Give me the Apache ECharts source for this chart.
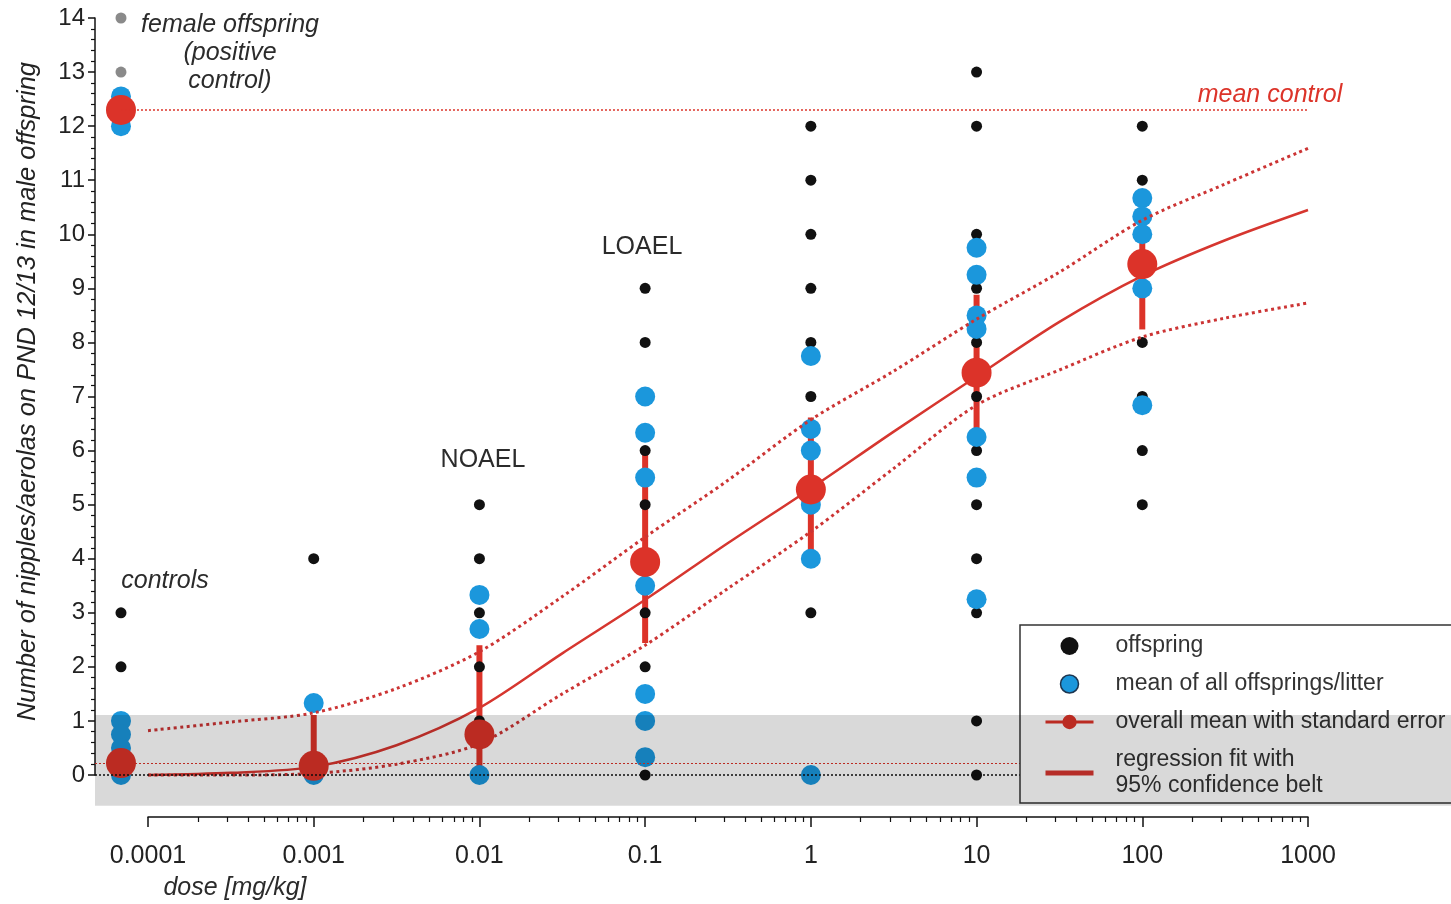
<!DOCTYPE html>
<html><head><meta charset="utf-8">
<script src="https://cdn.jsdelivr.net/npm/echarts@6/dist/echarts.min.js"></script>
<style>html,body{margin:0;padding:0;background:#fff}#c{width:1451px;height:904px}</style>
</head><body><div id="c"></div>
<script>
// ---------------- data ----------------
const doseGroups = ['control', '0.001', '0.01', '0.1', '1', '10', '100'];
// x position (mg/kg) for each group; control group is drawn left of the 0.0001 axis start
const doseX = [0.0000687, 0.001, 0.01, 0.1, 1, 10, 100];
const offspring = [
  [3, 2, 1, 0],
  [4, 0],
  [5, 4, 3, 2, 1, 0],
  [9, 8, 7, 6, 5, 4, 3, 2, 1, 0],
  [12, 11, 10, 9, 8, 7, 6, 5, 4, 3, 0],
  [13, 12, 10, 9, 8, 7, 6, 5, 4, 3, 1, 0],
  [12, 11, 10, 9, 8, 7, 6, 5]
];
const litterMeans = [
  [1.0, 0.75, 0.5, 0.25, 0],
  [1.33, 0],
  [3.33, 2.7, 0],
  [7.0, 6.33, 5.5, 3.5, 1.5, 1.0, 0.33],
  [7.75, 6.4, 6.0, 5.0, 4.0, 0],
  [9.75, 9.25, 8.5, 8.25, 6.25, 5.5, 3.25],
  [10.67, 10.33, 10.0, 9.0, 6.84]
];
const overallMean = [0.22, 0.17, 0.75, 3.94, 5.28, 7.44, 9.45];
const seLow  = [-0.05, 0.0, 0.05, 2.44, 4.0, 5.92, 8.24];
const seHigh = [0.52, 1.11, 2.4, 5.95, 6.61, 8.88, 10.45];
// female offspring (positive control)
const femaleOffspring = [14, 13, 12];
const femaleLitterMeans = [12.55, 12.3, 12.0];
const femaleMean = 12.3;
// regression fit with 95% confidence belt (log10 dose)
const fitLogDose = [-4, -3.5, -3, -2.5, -2, -1.5, -1, -0.5, 0, 0.5, 1, 1.5, 2, 2.5, 3];
const fitMean  = [0.0, 0.04, 0.15, 0.55, 1.24, 2.25, 3.24, 4.29, 5.3, 6.35, 7.37, 8.38, 9.23, 9.89, 10.45];
const fitUpper = [0.82, 0.98, 1.15, 1.6, 2.28, 3.3, 4.4, 5.45, 6.57, 7.47, 8.43, 9.3, 10.26, 10.93, 11.59];
const fitLower = [0.0, 0.0, 0.03, 0.2, 0.58, 1.5, 2.4, 3.45, 4.5, 5.67, 6.84, 7.49, 8.1, 8.45, 8.73];
// shaded band (y range)
const bandRange = [-0.567, 1.11];
const xTickLabels = ['0.0001', '0.001', '0.01', '0.1', '1', '10', '100', '1000'];
const yTickMax = 14;

// ---------------- layout ----------------
const FONT = "'Liberation Sans', Arial, sans-serif";
const W = 1451, H = 904;
const AX_X0 = 148, AX_X1 = 1308;           // pixel of 0.0001 and 1000
const DEC = (AX_X1 - AX_X0) / 7;             // px per decade
const PLOT_L = 95, PLOT_R = W;
const xMinLog = -4 - (AX_X0 - PLOT_L) / DEC;
const xMaxLog = 3 + (PLOT_R - AX_X1) / DEC;
const Y_TOP = 18, Y_ZERO = 775;
const UNIT = (Y_ZERO - Y_TOP) / yTickMax;
const yMinMain = -0.6;
const yBottomPx = Y_ZERO - yMinMain * UNIT;

const L = Math.log10;
const RED = '#dc3329', BLUE = '#1b97dc';

const offData = [], blueData = [];
offspring.forEach((vals, i) => vals.forEach(v => offData.push([L(doseX[i]), v])));
litterMeans.forEach((vals, i) => vals.forEach(v => blueData.push([L(doseX[i]), v])));
femaleLitterMeans.forEach(v => blueData.push([L(doseX[0]), v]));
const femData = femaleOffspring.map(v => [L(doseX[0]), v]);
const meanData = [[L(doseX[0]), femaleMean]].concat(overallMean.map((m, i) => [L(doseX[i]), m]));
const barData = overallMean.map((m, i) => [L(doseX[i]), seLow[i], seHigh[i]]);
const fitData = a => fitLogDose.map((x, i) => [x, a[i]]);

const chart = echarts.init(document.getElementById('c'), null, {renderer: 'canvas'});

chart.setOption({
  animation: false,
  backgroundColor: '#fff',
  grid: [
    {left: PLOT_L, right: 0, top: Y_TOP, bottom: H - yBottomPx, outerBoundsMode: 'none', containLabel: false},
    {left: PLOT_L, width: 10, top: Y_TOP, height: Y_ZERO - Y_TOP, outerBoundsMode: 'none', containLabel: false},
    {left: AX_X0, width: AX_X1 - AX_X0, top: 807, height: 10, outerBoundsMode: 'none', containLabel: false}
  ],
  xAxis: [
    {gridIndex: 0, type: 'value', min: xMinLog, max: xMaxLog, show: false},
    {gridIndex: 1, type: 'value', min: 0, max: 1, show: false},
    {gridIndex: 2, type: 'log', logBase: 10, min: 0.0001, max: 1000, position: 'bottom',
      axisLine: {show: true, lineStyle: {color: '#111', width: 1.5}},
      axisTick: {show: true, length: 10, lineStyle: {color: '#111', width: 1.5}},
      minorTick: {show: true, splitNumber: 9, length: 5, lineStyle: {color: '#111', width: 1.2}},
      splitLine: {show: false}, minorSplitLine: {show: false},
      axisLabel: {fontSize: 25, margin: 27, color: '#222', fontFamily: FONT,
        formatter: v => xTickLabels[Math.round(L(v)) + 4]}}
  ],
  yAxis: [
    {gridIndex: 0, type: 'value', min: yMinMain, max: yTickMax, show: false},
    {gridIndex: 1, type: 'value', min: 0, max: yTickMax, interval: 1, position: 'left',
      axisLine: {show: true, lineStyle: {color: '#111', width: 1.5}},
      axisTick: {show: true, length: 7, lineStyle: {color: '#111', width: 1.5}},
      minorTick: {show: true, splitNumber: 5, length: 4, lineStyle: {color: '#111', width: 1.2}},
      splitLine: {show: false}, minorSplitLine: {show: false},
      axisLabel: {fontSize: 24, margin: 10, color: '#222', fontFamily: FONT},
      name: 'Number of nipples/aerolas on PND 12/13 in male offspring',
      nameLocation: 'middle', nameGap: 54, nameMoveOverlap: false,
      nameTextStyle: {fontSize: 25.5, fontStyle: 'italic', color: '#222', fontFamily: FONT, padding: [0, 0, 0, 10]}},
    {gridIndex: 2, type: 'value', min: 0, max: 1, show: false}
  ],
  legend: {
    orient: 'vertical', left: 1020, top: 625, z: 50,
    data: [
      {name: 'offspring', icon: 'circle'},
      {name: 'mean of all offsprings/litter', icon: 'circle', itemStyle: {borderColor: '#1b3550', borderWidth: 1.5}},
      {name: 'overall mean with standard error', lineStyle: {opacity: 1, width: 3, color: RED}},
      {name: 'regression fit with\n95% confidence belt', icon: 'path://M0,0H48V5H0Z', itemStyle: {color: '#d6362f'}}
    ],
    itemWidth: 48, itemHeight: 18, itemGap: 12, symbolKeepAspect: true,
    textStyle: {fontFamily: FONT, fontSize: 23, color: '#333', lineHeight: 26, padding: [0, 0, 0, 17]},
    backgroundColor: '#fff', borderColor: '#333', borderWidth: 1.5, borderRadius: 0,
    padding: [8, 40, 4, 24],
    selectedMode: false
  },
  graphic: [
    {type: 'text', x: 230, y: 53, style: {text: 'female offspring\n(positive\ncontrol)', fill: '#2b2b2b',
      fontSize: 25, fontStyle: 'italic', fontFamily: FONT, align: 'center', verticalAlign: 'middle', lineHeight: 28}},
    {type: 'text', x: 165, y: 581, style: {text: 'controls', fill: '#2b2b2b', fontSize: 25, fontStyle: 'italic',
      fontFamily: FONT, align: 'center', verticalAlign: 'middle'}},
    {type: 'text', x: 483, y: 460, style: {text: 'NOAEL', fill: '#2b2b2b', fontSize: 25,
      fontFamily: FONT, align: 'center', verticalAlign: 'middle'}},
    {type: 'text', x: 642, y: 247, style: {text: 'LOAEL', fill: '#2b2b2b', fontSize: 25,
      fontFamily: FONT, align: 'center', verticalAlign: 'middle'}},
    {type: 'text', x: 1270, y: 95, style: {text: 'mean control', fill: RED, fontSize: 25, fontStyle: 'italic',
      fontFamily: FONT, align: 'center', verticalAlign: 'middle'}},
    {type: 'text', x: 235, y: 888, style: {text: 'dose [mg/kg]', fill: '#2b2b2b', fontSize: 25, fontStyle: 'italic',
      fontFamily: FONT, align: 'center', verticalAlign: 'middle'}}
  ],
  series: [
    {name: 'female offspring', type: 'scatter', xAxisIndex: 0, yAxisIndex: 0, data: femData,
      symbolSize: 11, itemStyle: {color: '#8a8a8a', opacity: 1}, silent: true},
    {name: 'offspring', type: 'scatter', xAxisIndex: 0, yAxisIndex: 0, data: offData,
      symbolSize: 11, itemStyle: {color: '#111', opacity: 1}, silent: true},
    {name: 'mean of all offsprings/litter', type: 'scatter', xAxisIndex: 0, yAxisIndex: 0, data: blueData,
      symbolSize: 20, itemStyle: {color: BLUE, opacity: 1}, silent: true},
    {name: 'upper 95%', type: 'line', xAxisIndex: 0, yAxisIndex: 0, data: fitData(fitUpper), smooth: 0.3,
      showSymbol: false, symbol: 'none', lineStyle: {color: '#cc3434', width: 3, type: [3, 3.5]}, silent: true},
    {name: 'lower 95%', type: 'line', xAxisIndex: 0, yAxisIndex: 0, data: fitData(fitLower), smooth: 0.3,
      showSymbol: false, symbol: 'none', lineStyle: {color: '#cc3434', width: 3, type: [3, 3.5]}, silent: true},
    {name: 'regression fit with\n95% confidence belt', type: 'line', xAxisIndex: 0, yAxisIndex: 0,
      data: fitData(fitMean), smooth: 0.3, showSymbol: false, symbol: 'none',
      itemStyle: {color: '#d6362f'}, lineStyle: {color: '#d6362f', width: 2.5}, silent: true},
    {name: 'overall mean with standard error', type: 'line', xAxisIndex: 0, yAxisIndex: 0, data: meanData,
      symbol: 'circle', symbolSize: 30, showSymbol: true, itemStyle: {color: RED, opacity: 1},
      lineStyle: {opacity: 0, color: RED, width: 3}, silent: true,
      markLine: {silent: true, symbol: ['none', 'none'], label: {show: false},
        data: [
          [{coord: [L(doseX[0]), femaleMean], lineStyle: {color: RED, width: 1.5, type: [2, 2]}},
           {coord: [L(1000), femaleMean]}],
          {yAxis: overallMean[0], lineStyle: {color: RED, width: 1.2, type: [2, 2]}},
          {yAxis: 0, lineStyle: {color: '#111', width: 1.5, type: [2, 2]}}
        ]}},
    {name: 'se bars', type: 'custom', xAxisIndex: 0, yAxisIndex: 0, data: barData, silent: true,
      encode: {x: 0, y: [1, 2]},
      renderItem: (params, api) => {
        const p1 = api.coord([api.value(0), api.value(1)]);
        const p2 = api.coord([api.value(0), api.value(2)]);
        return {type: 'line', shape: {x1: p1[0], y1: p1[1], x2: p2[0], y2: p2[1]},
          style: {stroke: RED, lineWidth: 6}};
      }},
    {name: 'band', type: 'scatter', xAxisIndex: 0, yAxisIndex: 0, data: [], zlevel: 1, z: 100, silent: true,
      markArea: {silent: true, zlevel: 1, z: 100, itemStyle: {color: 'rgba(0,0,0,0.15)'},
        data: [[{yAxis: bandRange[1]}, {yAxis: bandRange[0]}]]}}
  ]
});
</script></body></html>
